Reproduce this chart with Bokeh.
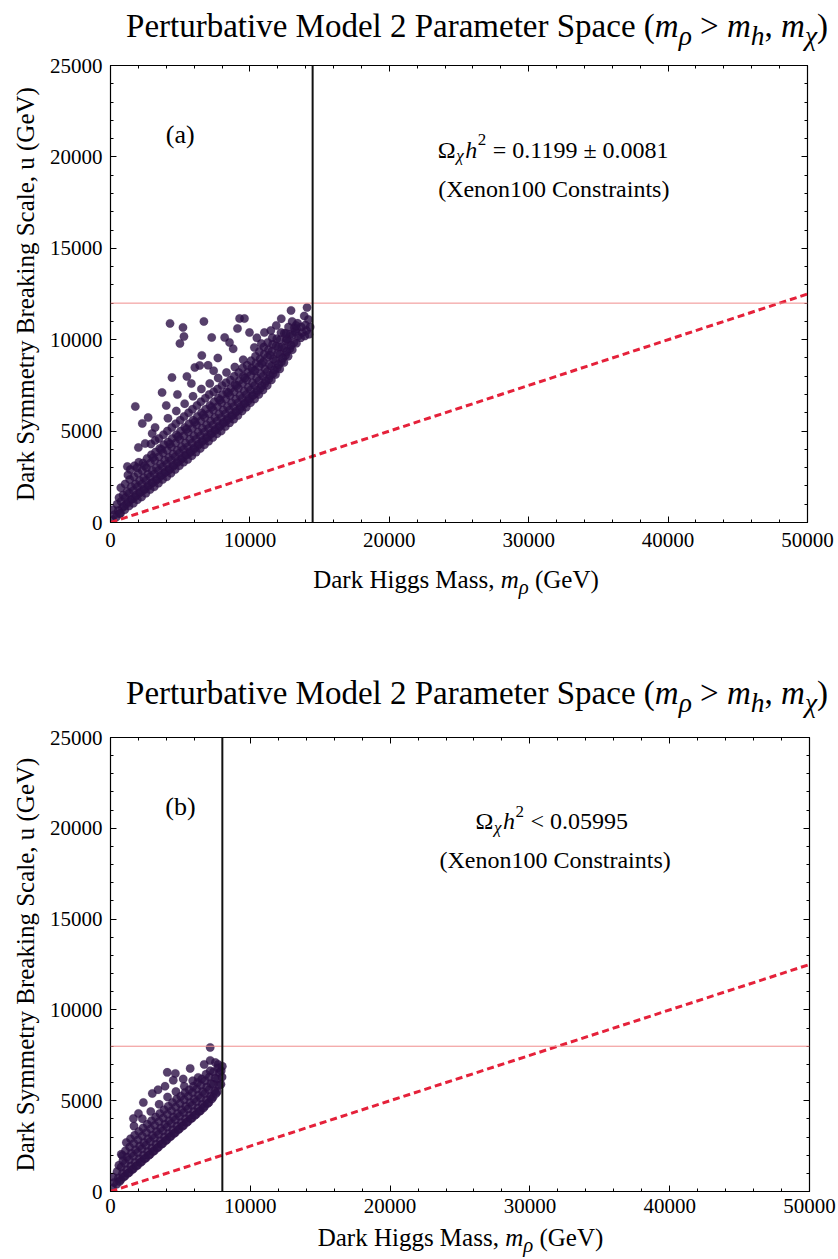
from bokeh.plotting import figure
from bokeh.models import (Range1d, LinearAxis, SingleIntervalTicker, Span, Label, Div,
                          Spacer, CustomJSTickFormatter, BasicTickFormatter)
from bokeh.layouts import column
from bokeh.embed import file_html
from bokeh.resources import INLINE

FONT = "Liberation Serif"

# ---------------- data ----------------
x_limits = [0, 50000]
y_limits = [0, 25000]
x_major_step = 10000
y_major_step = 5000

bound_mrho = [0, 50000]          # dashed red bound line
bound_u = [0, 12500]

a_mrho_cut = 14500               # vertical black line (a)
a_u_cut = 12000                  # horizontal red line (a)
b_mrho_cut = 8000                # vertical black line (b)
b_u_cut = 8000                   # horizontal red line (b)

title_html = ("Perturbative Model 2 Parameter Space (<i>m</i><sub><i>&rho;</i></sub> &gt; "
              "<i>m</i><sub><i>h</i></sub>, <i>m</i><sub><i>&chi;</i></sub>)")
xlabel_html = "Dark Higgs Mass, <i>m</i><sub><i>&rho;</i></sub> (GeV)"
ylabel_text = "Dark Symmetry Breaking Scale, u (GeV)"
a_tag = "(a)"
b_tag = "(b)"
a_relic = "= 0.1199 \u00b1 0.0081"
b_relic = "< 0.05995"
constraint_text = "(Xenon100 Constraints)"

# (m_rho, u) points, GeV
a_points = [
    (150,150),(260,420),(180,700),
    (420,300),(560,650),(470,1000),(610,1350),
    (720,500),(860,820),(760,1150),(900,1500),(740,1900),
    (1020,700),(1170,1020),(1060,1350),(1200,1700),(1050,2100),
    (1330,900),(1460,1250),(1350,1600),(1490,1950),(1380,2350),(1420,2900),
    (1640,1050),(1760,1400),(1650,1750),(1790,2100),(1680,2500),(1720,3100),
    (1930,1250),(2070,1600),(1950,1950),(2090,2300),(1980,2700),(2030,3300),(2000,4100),
    (2230,1400),(2360,1750),(2250,2100),(2390,2450),(2270,2850),(2330,3250),
    (2540,1600),(2670,1950),(2550,2300),(2690,2650),(2580,3000),(2620,3500),
    (2840,1800),(2960,2150),(2850,2500),(2990,2850),(2870,3250),(2930,3700),(2900,4300),
    (3140,1950),(3270,2300),(3150,2650),(3290,3000),(3170,3400),(3230,3850),
    (3440,2150),(3560,2500),(3450,2850),(3590,3200),(3470,3600),(3530,4050),(3480,4600),
    (3740,2350),(3870,2700),(3750,3050),(3890,3400),(3770,3800),(3830,4250),(3800,4800),
    (4040,2500),(4160,2850),(4050,3200),(4190,3550),(4070,3950),(4130,4400),(4080,5000),(4120,5700),
    (4340,2700),(4470,3050),(4350,3400),(4490,3750),(4370,4150),(4430,4600),(4400,5200),
    (4640,2900),(4760,3250),(4650,3600),(4790,3950),(4670,4350),(4730,4800),(4680,5400),(4720,6100),
    (4940,3100),(5070,3450),(4950,3800),(5090,4150),(4970,4550),(5030,5000),(5000,5600),
    (5240,3300),(5360,3650),(5250,4000),(5390,4350),(5270,4750),(5330,5200),(5280,5800),(5320,6500),
    (5540,3450),(5670,3800),(5550,4150),(5690,4550),(5570,4950),(5630,5400),(5600,6000),
    (5840,3650),(5960,4000),(5850,4350),(5990,4750),(5870,5150),(5930,5600),(5880,6200),(5920,6900),
    (6140,3850),(6270,4200),(6150,4550),(6290,4950),(6170,5350),(6230,5800),(6200,6400),
    (6440,4050),(6560,4400),(6450,4750),(6590,5150),(6470,5550),(6530,6000),(6480,6600),(6520,7300),
    (6740,4250),(6870,4600),(6750,4950),(6890,5350),(6770,5750),(6830,6200),(6800,6800),
    (7040,4450),(7160,4800),(7050,5150),(7190,5550),(7070,5950),(7130,6400),(7080,7000),(7120,7600),
    (7340,4650),(7470,5000),(7350,5350),(7490,5750),(7370,6150),(7430,6600),(7400,7150),
    (7640,4850),(7760,5200),(7650,5550),(7790,5950),(7670,6350),(7730,6800),(7680,7300),(7720,7900),
    (7940,5000),(8070,5400),(7950,5750),(8090,6150),(7970,6550),(8030,7000),(8000,7500),
    (8240,5250),(8360,5600),(8250,5950),(8390,6350),(8270,6750),(8330,7150),(8280,7650),(8320,8200),
    (8540,5450),(8670,5800),(8550,6150),(8690,6550),(8570,6950),(8630,7350),(8600,7800),
    (8840,5650),(8960,6000),(8850,6350),(8990,6750),(8870,7150),(8930,7550),(8880,8000),(8920,8500),
    (9140,5850),(9270,6200),(9150,6550),(9290,6950),(9170,7350),(9230,7750),(9200,8200),
    (9440,6100),(9560,6450),(9450,6800),(9590,7200),(9470,7600),(9530,8000),(9480,8450),(9520,8900),
    (9740,6300),(9870,6650),(9750,7000),(9890,7400),(9770,7800),(9830,8200),(9800,8600),
    (10040,6550),(10160,6900),(10050,7250),(10190,7650),(10070,8050),(10130,8450),(10080,8850),
    (10340,6750),(10470,7100),(10350,7500),(10490,7900),(10370,8300),(10430,8700),(10400,9100),
    (10640,7000),(10760,7350),(10650,7750),(10790,8150),(10670,8550),(10730,8950),(10680,9350),
    (10940,7250),(11070,7600),(10950,8000),(11090,8400),(10970,8800),(11030,9200),(11000,9600),
    (11240,7500),(11360,7850),(11250,8250),(11390,8650),(11270,9050),(11330,9450),(11280,9850),
    (11540,7800),(11670,8150),(11550,8550),(11690,8950),(11570,9350),(11630,9750),(11600,10100),
    (11840,8100),(11960,8450),(11850,8850),(11990,9250),(11870,9650),(11930,10050),
    (12140,8400),(12270,8800),(12150,9200),(12290,9600),(12170,10000),(12230,10400),
    (12440,8750),(12560,9150),(12450,9550),(12590,9950),(12470,10350),
    (12740,9100),(12870,9500),(12750,9900),(12890,10300),(12770,10700),
    (13040,9450),(13160,9850),(13050,10250),(13190,10650),
    (13340,9800),(13470,10200),(13350,10600),(13420,10900),
    (13640,10100),(13760,10400),(13680,10700),
    (13940,10200),(14060,10500),(13980,10800),
    (14240,10300),(14320,10700),
    # in-between points of the dense band
    (650,480),(980,900),(1280,1150),(1560,1300),(1850,1500),(2150,1680),(2450,1850),
    (2750,2050),(3050,2200),(3350,2400),(3650,2600),(3950,2780),(4250,2950),(4550,3150),
    (4850,3350),(5150,3550),(5450,3720),(5750,3900),(6050,4100),(6350,4300),(6650,4500),
    (6950,4700),(7250,4900),(7550,5100),(7850,5300),(8150,5500),(8450,5700),(8750,5900),
    (9050,6100),(9350,6350),(9650,6550),(9950,6800),(10250,7000),(10550,7250),(10850,7500),
    (11150,7750),(11450,8050),(11750,8350),(12050,8650),(12350,9000),(12650,9350),(12950,9700),
    (1250,2600),(1900,3000),(2450,3100),(3050,3550),(3650,4000),(4250,4300),(4850,4700),
    (5450,5100),(6050,5500),(6650,5900),(7250,6300),(7850,6700),(8450,7100),(9050,7500),
    (9650,7900),(10250,8300),(10850,8700),(11450,9150),(12050,9600),(12650,10050),(13250,10450),
    # sparse points above the main band
    (4270,10890),(5200,10670),(6700,11000),(9260,11160),(9610,11160),(5270,10170),
    (4980,9790),(7260,10120),(8190,10120),(8540,9850),(6550,9140),(6050,8480),
    (5480,7990),(4410,7930),(3700,7110),(1780,6350),(2700,5740),(2280,5420),
    (1210,3060),(14100,11760),(12950,11600),(12250,11150),(13300,10780),(9110,10610),
    (9970,10390),(11040,10390),(10820,9790),(10320,9570),(11890,10780),(12600,10340),
    (13030,11000),(6400,8590),(2490,4320),(3200,4490),(2990,4870),(3200,5200),
    (4000,6400),(4800,7000),(5800,7600),(7000,8600),(7700,9000),(8800,9500),
    (7400,8300),(13900,11300),(14200,11100),(10500,10100),(11500,10500),
]

# (m_rho, u) points, GeV
b_points = [
    (150,200),(260,500),(180,800),
    (440,400),(560,750),(470,1100),(600,1450),
    (740,650),(860,1000),(760,1350),(890,1700),(770,2050),
    (1040,850),(1160,1200),(1050,1550),(1190,1900),(1070,2250),(1130,2700),
    (1340,1050),(1460,1400),(1350,1750),(1490,2100),(1370,2450),(1430,2900),
    (1640,1250),(1760,1600),(1650,1950),(1790,2300),(1670,2650),(1730,3100),(1680,3600),
    (1940,1450),(2060,1800),(1950,2150),(2090,2500),(1970,2850),(2030,3300),
    (2240,1650),(2360,2000),(2250,2350),(2390,2700),(2270,3050),(2330,3500),(2280,4000),
    (2540,1850),(2660,2200),(2550,2550),(2690,2900),(2570,3250),(2630,3700),
    (2840,2050),(2960,2400),(2850,2750),(2990,3100),(2870,3450),(2930,3900),(2880,4400),
    (3140,2250),(3260,2600),(3150,2950),(3290,3300),(3170,3650),(3230,4100),
    (3440,2450),(3560,2800),(3450,3150),(3590,3500),(3470,3850),(3530,4300),(3480,4800),
    (3740,2650),(3860,3000),(3750,3350),(3890,3700),(3770,4050),(3830,4500),
    (4040,2850),(4160,3200),(4050,3550),(4190,3900),(4070,4250),(4130,4700),(4080,5200),
    (4340,3050),(4460,3400),(4350,3750),(4490,4100),(4370,4450),(4430,4900),
    (4640,3250),(4760,3600),(4650,3950),(4790,4300),(4670,4650),(4730,5100),(4680,5500),
    (4940,3450),(5060,3800),(4950,4150),(5090,4500),(4970,4850),(5030,5250),
    (5240,3650),(5360,4000),(5250,4350),(5390,4700),(5270,5050),(5330,5450),(5280,5800),
    (5540,3850),(5660,4200),(5550,4550),(5690,4900),(5570,5250),(5630,5600),
    (5840,4050),(5960,4400),(5850,4750),(5990,5100),(5870,5450),(5930,5800),(5880,6100),
    (6140,4250),(6260,4600),(6150,4950),(6290,5300),(6170,5650),(6230,6000),
    (6440,4450),(6560,4800),(6450,5150),(6590,5500),(6470,5850),(6530,6200),
    (6740,4700),(6860,5050),(6750,5400),(6890,5750),(6770,6100),(6830,6450),
    (7040,4900),(7160,5250),(7050,5600),(7190,5950),(7070,6300),(7130,6650),
    (7340,5200),(7460,5550),(7350,5900),(7490,6250),(7370,6600),
    (7640,5500),(7760,5850),(7650,6200),(7790,6550),(7670,6800),
    (7900,5900),(7980,6300),(7920,6650),
    # in-between points
    (650,550),(950,800),(1250,1000),(1550,1200),(1850,1400),(2150,1600),(2450,1800),
    (2750,2000),(3050,2200),(3350,2400),(3650,2600),(3950,2800),(4250,3000),(4550,3200),
    (4850,3400),(5150,3600),(5450,3800),(5750,4000),(6050,4200),(6350,4400),(6650,4600),
    (6950,4850),(7250,5100),(7550,5400),
    # sparse points
    (7130,7930),(7130,7220),(4060,6560),(4640,6500),(4490,6120),(5700,6780),
    (6270,6280),(2990,5400),(2350,4900),(1640,4020),(850,1980),(3400,5600),
    (5200,6200),(6700,7000),(7500,7100),(2000,4300),(3900,5800),(7700,7000),(8000,6900),
]

# ---------------- styling helpers ----------------
POINT_COLOR = "#2c1046"
DASH_RED = "#e5213a"
THIN_RED = "#f08c8c"


def blank_formatter():
    return CustomJSTickFormatter(code="return ''")


def make_panel(points, v_cut, h_cut, tag, relic_rest, relic_width,
               left_border, right_border, top_border, bottom_border, frame_w, frame_h,
               x_standoff):
    p = figure(width=left_border + frame_w + right_border,
               height=top_border + frame_h + bottom_border,
               x_range=Range1d(*x_limits), y_range=Range1d(*y_limits),
               x_axis_type=None, y_axis_type=None,
               output_backend="svg", toolbar_location=None,
               min_border_left=left_border, min_border_right=right_border,
               min_border_top=top_border, min_border_bottom=bottom_border)
    p.grid.visible = False
    p.outline_line_color = "black"
    p.outline_line_width = 1.2
    p.background_fill_color = "white"
    p.border_fill_color = "white"

    def style_axis(ax, labels=True, standoff=8):
        ax.axis_line_color = None
        ax.major_tick_in = 6
        ax.major_tick_out = 0
        ax.minor_tick_in = 3
        ax.minor_tick_out = 0
        ax.major_tick_line_color = "black"
        ax.minor_tick_line_color = "black"
        ax.major_label_text_font = FONT
        ax.major_label_text_font_size = "21px"
        ax.major_label_text_color = "black"
        ax.major_label_standoff = standoff
        if not labels:
            ax.formatter = blank_formatter()
            ax.major_label_standoff = 0

    xb = LinearAxis(ticker=SingleIntervalTicker(interval=x_major_step, num_minor_ticks=5),
                    formatter=BasicTickFormatter(use_scientific=False))
    style_axis(xb, standoff=x_standoff)
    p.add_layout(xb, "below")
    xt = LinearAxis(ticker=SingleIntervalTicker(interval=x_major_step, num_minor_ticks=5))
    style_axis(xt, labels=False)
    p.add_layout(xt, "above")

    yl = LinearAxis(ticker=SingleIntervalTicker(interval=y_major_step, num_minor_ticks=5),
                    formatter=BasicTickFormatter(use_scientific=False))
    style_axis(yl, standoff=8)
    yl.axis_label = ylabel_text
    yl.axis_label_text_font = FONT
    yl.axis_label_text_font_size = "25px"
    yl.axis_label_text_font_style = "normal"
    yl.axis_label_text_color = "black"
    yl.axis_label_standoff = 8
    p.add_layout(yl, "left")
    yr = LinearAxis(ticker=SingleIntervalTicker(interval=y_major_step, num_minor_ticks=5))
    style_axis(yr, labels=False)
    p.add_layout(yr, "right")

    xs = [pt[0] for pt in points]
    ys = [pt[1] for pt in points]
    p.scatter(xs, ys, size=8.5, fill_color=POINT_COLOR, fill_alpha=0.8,
              line_color=POINT_COLOR, line_alpha=0.3, line_width=0.5)

    p.line(bound_mrho, bound_u, line_color=DASH_RED, line_width=3, line_dash="7 4")
    p.add_layout(Span(location=h_cut, dimension="width", line_color=THIN_RED, line_width=1))
    p.add_layout(Span(location=v_cut, dimension="height", line_color="#111111", line_width=2))

    p.add_layout(Label(x=5000, y=21200, text=tag, text_font=FONT, text_font_size="26px",
                       text_align="center", text_baseline="middle", text_color="black"))

    cx, base_y = 31800, 20400
    left = -relic_width / 2.0
    common = dict(x=cx, y=base_y, text_font=FONT, text_align="left",
                  text_baseline="alphabetic", text_color="black")
    p.add_layout(Label(x_offset=left, text="\u03a9", text_font_size="24px", **common))
    p.add_layout(Label(x_offset=left + 18.5, y_offset=-6, text="\u03c7",
                       text_font_size="17px", text_font_style="italic", **common))
    p.add_layout(Label(x_offset=left + 27.5, text="h", text_font_size="24px",
                       text_font_style="italic", **common))
    p.add_layout(Label(x_offset=left + 40, y_offset=10, text="2",
                       text_font_size="17px", **common))
    p.add_layout(Label(x_offset=left + 55, text=relic_rest, text_font_size="24px", **common))
    p.add_layout(Label(x=cx, y=18250, text=constraint_text, text_font=FONT,
                       text_font_size="24px", text_align="center", text_baseline="alphabetic",
                       text_color="black"))
    return p


def title_div(height):
    return Div(text=title_html, width=828, height=height, margin=(0, 0, 0, 0),
               styles={"font-family": FONT, "font-size": "33px", "line-height": f"{height}px",
                       "text-align": "right", "white-space": "nowrap", "color": "black",
                       "overflow": "visible"})


def xlabel_div(left, width, height, line_height):
    return Div(text=xlabel_html, width=width, height=height, margin=(0, 0, 0, left),
               styles={"font-family": FONT, "font-size": "25px",
                       "line-height": f"{line_height}px",
                       "text-align": "center", "white-space": "nowrap", "color": "black",
                       "overflow": "visible"})


pa = make_panel(a_points, a_mrho_cut, a_u_cut, a_tag, a_relic, 232,
                left_border=105, right_border=28, top_border=13, bottom_border=38,
                frame_w=702, frame_h=457, x_standoff=10)
pb = make_panel(b_points, b_mrho_cut, b_u_cut, b_tag, b_relic, 159,
                left_border=110, right_border=26, top_border=18, bottom_border=32,
                frame_w=701, frame_h=454, x_standoff=7)

layout = column(
    title_div(52),
    pa,
    xlabel_div(105, 702, 40, 40),
    Spacer(height=67, width=10),
    title_div(52),
    pb,
    xlabel_div(110, 701, 36, 30),
    spacing=0,
)

open("out.html", "w").write(file_html(layout, INLINE, title="Perturbative Model 2 Parameter Space"))
